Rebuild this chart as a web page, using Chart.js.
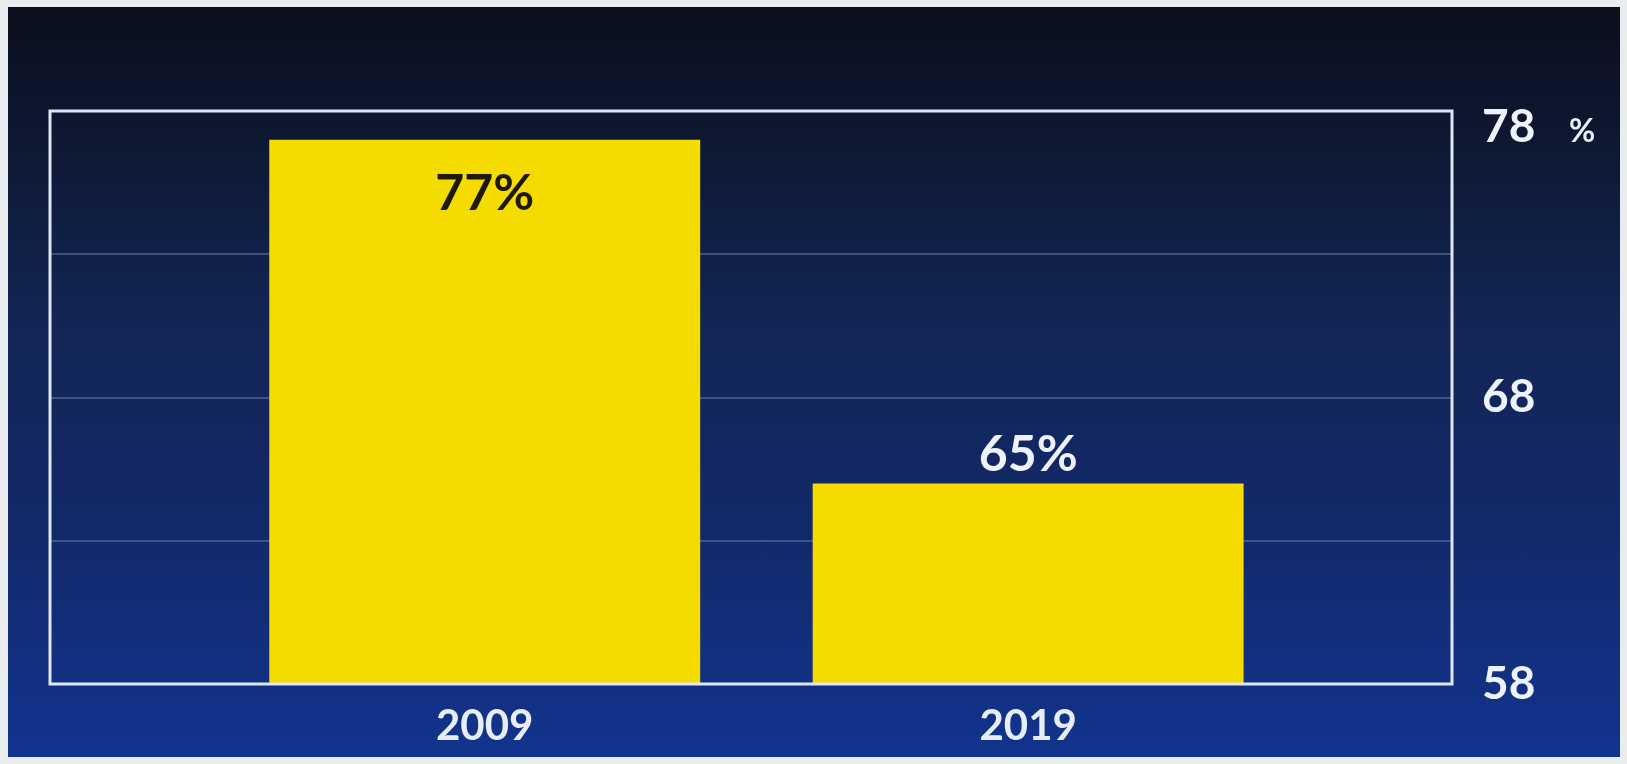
<!DOCTYPE html>
<html>
<head>
<meta charset="utf-8">
<script src="https://cdn.jsdelivr.net/npm/chart.js@4.4.1/dist/chart.umd.min.js"></script>
<style>
html,body{margin:0;padding:0;background:#e9ecee;}
#frame{position:absolute;left:8px;top:7px;width:1612px;height:750px;
background:linear-gradient(to bottom,#0b0f1c 0%,#0d1730 16%,#122554 42%,#13296a 70%,#12348e 100%);}
#wrap{position:absolute;left:0;top:0;width:1627px;height:764px;}
</style>
</head>
<body>
<div id="frame"></div>
<div id="wrap"><canvas id="chart"></canvas></div>
<script>
const years = [2009, 2019];
const shares = [77, 65];
const valueLabels = ['77%', '65%'];
const shownTicks = [58, 68, 78];

const fontFace = 'Lato, "Open Sans", sans-serif';

// white frame round the plot area, value labels and the % unit
const extras = {
id:'extras',
afterDatasetsDraw(chart){
const ctx = chart.ctx;
const a = chart.chartArea;
ctx.save();
ctx.strokeStyle = '#dfe6f4';
ctx.lineWidth = 3;
ctx.strokeRect(a.left, a.top, a.right - a.left, a.bottom - a.top);

const bars = chart.getDatasetMeta(0).data;
ctx.font = 'bold 50px ' + fontFace;
ctx.textAlign = 'center';
ctx.textBaseline = 'middle';
bars.forEach((bar, i) => {
if(i === 0){
ctx.fillStyle = '#1d1a0c';
ctx.fillText(valueLabels[i], bar.x, bar.y + 54);
} else {
ctx.fillStyle = '#eef2fa';
ctx.fillText(valueLabels[i], bar.x, bar.y - 29);
}
});

ctx.font = 'bold 32px ' + fontFace;
ctx.fillStyle = '#e8edf6';
ctx.fillText('%', a.right + 130, chart.scales.y.top + 21);
ctx.restore();
}
};

new Chart(document.getElementById('chart'), {
type:'bar',
data:{
datasets:[{
data: years.map((y, i) => ({x:y, y:shares[i]})),
backgroundColor:'#f5dc00',
borderWidth:0,
barPercentage:0.793,
categoryPercentage:1
}]
},
options:{
responsive:true,
maintainAspectRatio:false,
animation:false,
layout:{padding:{left:50, top:111, right:0, bottom:0}},
plugins:{legend:{display:false}, tooltip:{enabled:false}},
scales:{
x:{
type:'linear',
offset:false,
min:2001,
max:2026.8,
afterBuildTicks: s => { s.ticks = years.map(v => ({value:v})); },
afterFit: s => { s.height = 80; },
grid:{display:false},
border:{display:false},
ticks:{
color:'#e8eef8',
padding:9,
font:{family:fontFace, size:42, weight:'bold'},
callback: v => String(v)
}
},
y:{
position:'right',
min:58,
max:78,
afterFit: s => { s.width = 175; },
grid:{
drawTicks:false,
lineWidth:2,
color: c => (c.tick && (c.tick.value === 58 || c.tick.value === 78)) ? 'rgba(0,0,0,0)' : 'rgba(95,120,175,0.55)'
},
border:{display:false},
ticks:{
stepSize:5,
padding:30,
color:'#eef2fa',
font:{family:fontFace, size:46, weight:'bold', lineHeight:0.7},
// top label sits a little below the frame, so push it down one half line
callback: v => {
if(!shownTicks.includes(v)) return '';
return v === 78 ? ['', String(v)] : String(v);
}
}
}
}
},
plugins:[extras]
});
</script>
</body>
</html>
